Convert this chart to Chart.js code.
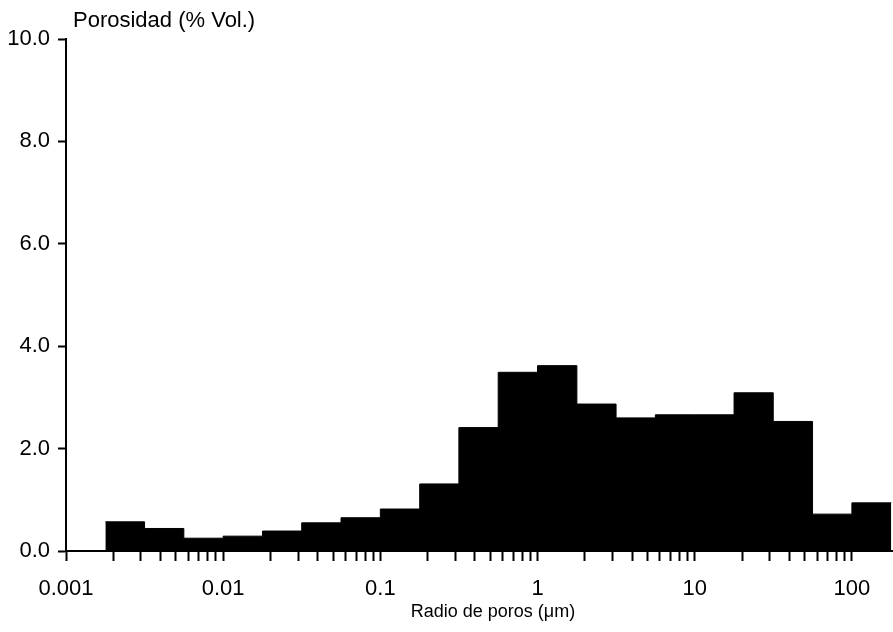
<!DOCTYPE html>
<html>
<head>
<meta charset="utf-8">
<script src="https://cdn.jsdelivr.net/npm/chart.js@4.4.1/dist/chart.umd.min.js"></script>
<style>
  html, body { margin: 0; padding: 0; background: #fff; }
  #chart { display: block; }
</style>
</head>
<body>
<canvas id="chart" width="893" height="632"></canvas>
<script>
// pore radius bin edges (um), quarter-decade bins
const binEdges = [0.00178, 0.00316, 0.00562, 0.01, 0.0178, 0.0316, 0.0562, 0.1,
  0.178, 0.316, 0.562, 1, 1.78, 3.16, 5.62, 10, 17.8, 31.6, 56.2, 100, 178];
// porosity per bin (% vol.)
const porosity = [0.57, 0.44, 0.25, 0.29, 0.39, 0.55, 0.65, 0.82, 1.31, 2.41,
  3.49, 3.62, 2.87, 2.60, 2.66, 2.66, 3.09, 2.53, 0.72, 0.94];
const xTickLabels = ['0.001', '0.01', '0.1', '1', '10', '100'];
const yTicks = [0, 2, 4, 6, 8, 10];

const FONT = '"Liberation Sans", Arial, Helvetica, sans-serif';

// step outline: each bin value holds until the next edge
const stepPoints = binEdges.map((e, i) => ({ x: e, y: porosity[Math.min(i, porosity.length - 1)] }));

const titlesPlugin = {
  id: 'titles',
  afterDraw(chart) {
    const ctx = chart.ctx;
    ctx.save();
    ctx.fillStyle = '#000';
    ctx.textBaseline = 'alphabetic';
    ctx.font = '22px ' + FONT;
    ctx.textAlign = 'left';
    ctx.fillText('Porosidad (% Vol.)', 73, 27);
    ctx.font = '18px ' + FONT;
    ctx.textAlign = 'center';
    ctx.fillText('Radio de poros (μm)', 493, 617);
    ctx.restore();
  }
};

new Chart(document.getElementById('chart'), {
  type: 'line',
  data: {
    datasets: [{
      data: stepPoints,
      stepped: 'before',
      fill: 'origin',
      backgroundColor: '#000',
      borderColor: '#000',
      borderWidth: 1,
      pointRadius: 0,
    }],
  },
  options: {
    responsive: false,
    animation: false,
    layout: { padding: { top: 39, right: 1, left: 0, bottom: 0 } },
    plugins: { legend: { display: false }, tooltip: { enabled: false } },
    scales: {
      x: {
        type: 'logarithmic',
        min: 0.001,
        max: 180,
        // keep only the 1..9 x 10^n ticks
        afterBuildTicks(scale) {
          scale.ticks = scale.ticks.filter(t => {
            const m = t.value / Math.pow(10, Math.floor(Math.log10(t.value) + 1e-9));
            return Math.abs(m - Math.round(m)) < 1e-6 && t.value < 180;
          });
        },
        afterFit(scale) { scale.height = 81; },
        grid: {
          drawOnChartArea: false, drawTicks: true,
          tickLength: 10, tickWidth: 2, tickColor: '#000',
        },
        border: { display: true, color: '#000', width: 2 },
        ticks: {
          autoSkip: false, maxRotation: 0, padding: 15,
          color: '#000', font: { family: FONT, size: 22 },
          callback(value) {
            const lg = Math.log10(value);
            if (Math.abs(lg - Math.round(lg)) < 1e-6) return xTickLabels[Math.round(lg) + 3] || '';
            return '';
          },
        },
      },
      y: {
        type: 'linear',
        min: 0,
        max: 10,
        afterBuildTicks(scale) { scale.ticks = yTicks.map(v => ({ value: v })); },
        afterFit(scale) { scale.width = 66; },
        grid: {
          drawOnChartArea: false, drawTicks: true,
          tickLength: 8, tickWidth: 2, tickColor: '#000',
        },
        border: { display: true, color: '#000', width: 2 },
        ticks: {
          padding: 8, color: '#000', font: { family: FONT, size: 22 },
          callback: v => v.toFixed(1),
        },
      },
    },
  },
  plugins: [titlesPlugin],
});
</script>
</body>
</html>
